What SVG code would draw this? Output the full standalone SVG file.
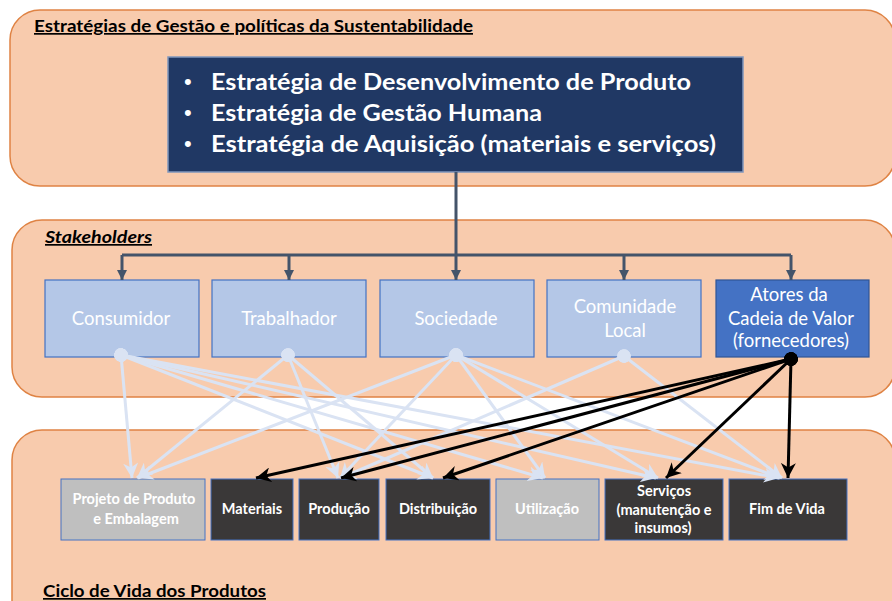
<svg xmlns="http://www.w3.org/2000/svg" width="892" height="601" viewBox="0 0 892 601">
<defs>
<style>
.panel{fill:#F8CBAD;stroke:#DF8344;stroke-width:1.5}
.t{font-family:Lato,"Liberation Sans",Arial,sans-serif}
.hd{font-weight:bold;font-size:17px;fill:#000;text-decoration:underline}
.big{font-weight:bold;font-size:22px;fill:#fff}
.bul{font-family:"Liberation Sans",Arial,sans-serif;font-size:22px;fill:#fff}
.sk{fill:#B4C7E7;stroke:#4472C4;stroke-width:1.2}
.skd{fill:#4472C4;stroke:#2F5597;stroke-width:1.2}
.skt{font-size:18.5px;fill:#fff;text-anchor:middle}
.lc{fill:#3A3838;stroke:#4472C4;stroke-width:1}
.lg{fill:#BFBFBF;stroke:#4472C4;stroke-width:1}
.lct{font-weight:bold;font-size:14.5px;fill:#fff;text-anchor:middle}
.top{fill:none;stroke:#44546A;stroke-width:3}
.lt{fill:none;stroke:#DAE3F3;stroke-width:3;marker-start:url(#dl);marker-end:url(#al)}
.bk{fill:none;stroke:#000;stroke-width:3;marker-start:url(#db);marker-end:url(#ab)}
</style>
<marker id="tri" viewBox="0 0 10 10" refX="10" refY="5" markerWidth="3.5" markerHeight="3.5" orient="auto"><path d="M0,0 L10,5 L0,10 z" fill="#44546A"/></marker>
<marker id="al" viewBox="0 0 10 10" refX="10" refY="5" markerWidth="5" markerHeight="5" orient="auto"><path d="M0,0 L10,5 L0,10 L3,5 z" fill="#DAE3F3"/></marker>
<marker id="ab" viewBox="0 0 10 10" refX="10" refY="5" markerWidth="5" markerHeight="5" orient="auto"><path d="M0,0 L10,5 L0,10 L3,5 z" fill="#000"/></marker>
<marker id="dl" viewBox="0 0 10 10" refX="5" refY="5" markerWidth="4.5" markerHeight="4.5" orient="auto"><circle cx="5" cy="5" r="5" fill="#DAE3F3"/></marker>
<marker id="db" viewBox="0 0 10 10" refX="5" refY="5" markerWidth="4.5" markerHeight="4.5" orient="auto"><circle cx="5" cy="5" r="5" fill="#000"/></marker>
</defs>

<g id="panel-estrategias">
<rect class="panel" x="10" y="10" width="885" height="176" rx="30"/>
<text class="t hd" x="34" y="32" textLength="439" lengthAdjust="spacingAndGlyphs">Estratégias de Gestão e políticas da Sustentabilidade</text>
</g>
<g id="panel-stakeholders">
<rect class="panel" x="12" y="220" width="883" height="177" rx="30"/>
<text class="t hd" x="45" y="243" font-style="italic" textLength="107" lengthAdjust="spacingAndGlyphs">Stakeholders</text>
</g>
<g id="panel-ciclo">
<rect class="panel" x="12" y="430" width="883" height="200" rx="30"/>
<text class="t hd" x="43" y="597" textLength="223" lengthAdjust="spacingAndGlyphs">Ciclo de Vida dos Produtos</text>
</g>

<g id="estrategias">
<rect x="168" y="57" width="575" height="115" fill="#203864" stroke="#7F96BC" stroke-width="1.5"/>
<text class="bul" x="184" y="89">•</text>
<text class="t big" x="211" y="90" textLength="480" lengthAdjust="spacingAndGlyphs">Estratégia de Desenvolvimento de Produto</text>
<text class="bul" x="184" y="120">•</text>
<text class="t big" x="211" y="121" textLength="331" lengthAdjust="spacingAndGlyphs">Estratégia de Gestão Humana</text>
<text class="bul" x="184" y="151">•</text>
<text class="t big" x="211" y="152" textLength="505" lengthAdjust="spacingAndGlyphs">Estratégia de Aquisição (materiais e serviços)</text>
</g>

<g id="consumidor">
<rect class="sk" x="45" y="280" width="154" height="77"/>
<text class="t skt" x="121" y="325">Consumidor</text>
</g>
<g id="trabalhador">
<rect class="sk" x="212" y="280" width="154" height="77"/>
<text class="t skt" x="289" y="325">Trabalhador</text>
</g>
<g id="sociedade">
<rect class="sk" x="380" y="280" width="154" height="77"/>
<text class="t skt" x="456" y="325">Sociedade</text>
</g>
<g id="comunidade">
<rect class="sk" x="547" y="280" width="154" height="77"/>
<text class="t skt" x="625" y="313">Comunidade</text>
<text class="t skt" x="625" y="337">Local</text>
</g>
<g id="atores">
<rect class="skd" x="716" y="280" width="153" height="77"/>
<text class="t skt" x="789" y="301">Atores da</text>
<text class="t skt" x="791" y="325">Cadeia de Valor</text>
<text class="t skt" x="791" y="347">(fornecedores)</text>
</g>

<g id="projeto">
<rect class="lg" x="61" y="479" width="144" height="61"/>
<text class="t lct" x="134" y="504">Projeto de Produto</text>
<text class="t lct" x="136" y="524">e Embalagem</text>
</g>
<g id="materiais">
<rect class="lc" x="211" y="479" width="82" height="61"/>
<text class="t lct" x="252" y="514">Materiais</text>
</g>
<g id="producao">
<rect class="lc" x="299" y="479" width="80" height="61"/>
<text class="t lct" x="339" y="514">Produção</text>
</g>
<g id="distribuicao">
<rect class="lc" x="386" y="479" width="104" height="61"/>
<text class="t lct" x="438" y="514">Distribuição</text>
</g>
<g id="utilizacao">
<rect class="lg" x="496" y="479" width="103" height="61"/>
<text class="t lct" x="547" y="514">Utilização</text>
</g>
<g id="servicos">
<rect class="lc" x="605" y="479" width="118" height="61"/>
<text class="t lct" x="664" y="496">Serviços</text>
<text class="t lct" x="664" y="515">(manutenção e</text>
<text class="t lct" x="663" y="533">insumos)</text>
</g>
<g id="fim-de-vida">
<rect class="lc" x="729" y="479" width="118" height="61"/>
<text class="t lct" x="787" y="514">Fim de Vida</text>
</g>

<g id="connectors">
<path class="top" d="M456,172 V255 M122,255 H791"/>
<path class="top" marker-end="url(#tri)" d="M122,255 V280"/>
<path class="top" marker-end="url(#tri)" d="M289,255 V280"/>
<path class="top" marker-end="url(#tri)" d="M456,255 V280"/>
<path class="top" marker-end="url(#tri)" d="M624,255 V280"/>
<path class="top" marker-end="url(#tri)" d="M791,255 V280"/>

<path class="lt" d="M121,355 L132,478"/>
<path class="lt" d="M121,355 L433,478"/>
<path class="lt" d="M121,355 L543,478"/>
<path class="lt" d="M121,355 L656,478"/>
<path class="lt" d="M121,355 L779,478"/>
<path class="lt" d="M288,355 L137,478"/>
<path class="lt" d="M288,355 L338,478"/>
<path class="lt" d="M288,355 L433,478"/>
<path class="lt" d="M456,355 L138,478"/>
<path class="lt" d="M456,355 L340,478"/>
<path class="lt" d="M456,355 L545,478"/>
<path class="lt" d="M456,355 L658,478"/>
<path class="lt" d="M456,355 L780,478"/>
<path class="lt" d="M624,356 L341,478"/>
<path class="lt" d="M624,356 L782,478"/>

<path class="bk" d="M791,359 L256,478"/>
<path class="bk" d="M791,359 L341,478"/>
<path class="bk" d="M791,359 L443,478"/>
<path class="bk" d="M791,359 L666,478"/>
<path class="bk" d="M791,359 L788,478"/>
</g>
</svg>
